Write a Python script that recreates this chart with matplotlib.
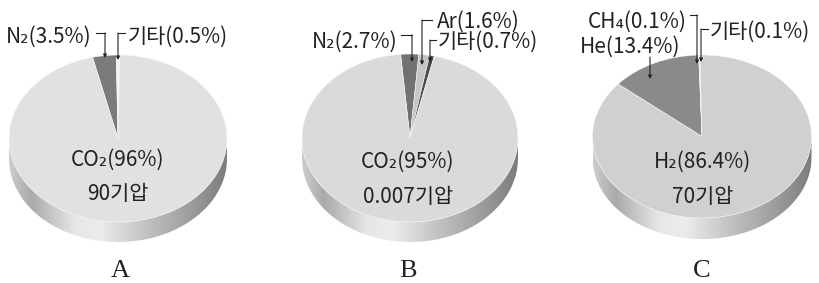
import matplotlib
matplotlib.use('Agg')
import matplotlib.pyplot as plt
import numpy as np
from matplotlib.colors import LinearSegmentedColormap
from matplotlib.patches import Polygon

plt.rcParams['font.family'] = ['Noto Sans CJK KR', 'DejaVu Sans']

# data (percent of each atmosphere, pressure in atm)
namesA = ['N₂', '기타', 'CO₂']
valsA = [3.5, 0.5, 96]
pressA = '90'

namesB = ['N₂', 'Ar', '기타', 'CO₂']
valsB = [2.7, 1.6, 0.7, 95]
pressB = '0.007'

namesC = ['He', 'CH₄', '기타', 'H₂']
valsC = [13.4, 0.1, 0.1, 86.4]
pressC = '70'

planets = ['A', 'B', 'C']

W, H = 819, 283
fig = plt.figure(figsize=(W/100, H/100), dpi=100)

# side band shading (left -> right)
sideCmap = LinearSegmentedColormap.from_list('side', [
	(0.0, '#cdcdcd'), (0.10, '#aaaaaa'), (0.30, '#e6e6e6'), (0.42, '#ececec'),
	(0.62, '#c4c4c4'), (0.85, '#9a9a9a'), (1.0, '#7c7c7c')])


def label(v):
	return '{:g}'.format(v)


def drawPie(cx, cy, rx, ry, t, vals, cols, start):
	pad = 0.05
	left = cx - (1+pad)*rx
	right = cx + (1+pad)*rx
	top = cy - (1+pad)*ry
	bot = cy + ry + t + pad*ry
	ax = fig.add_axes([left/W, 1-bot/H, (right-left)/W, (bot-top)/H])
	td = t/ry

	# cylinder side
	th = np.linspace(np.pi, 2*np.pi, 200)
	upper = np.column_stack([np.cos(th), np.sin(th)])
	lower = np.column_stack([np.cos(th[::-1]), np.sin(th[::-1]) - td])
	side = Polygon(np.vstack([upper, lower]), closed=True, facecolor='none', edgecolor='none')
	ax.add_patch(side)
	grad = np.linspace(0, 1, 256).reshape(1, -1)
	im = ax.imshow(grad, extent=[-1, 1, -1-td, 0], cmap=sideCmap, aspect='auto', zorder=0)
	im.set_clip_path(side)

	wedges, _ = ax.pie(vals, colors=cols, startangle=start, counterclock=False, radius=1,
		center=(0, 0), wedgeprops=dict(edgecolor='#f6f6f6', linewidth=0.4))
	for w in wedges:
		w.set_zorder(2)

	ax.set_aspect('auto')
	ax.set_xlim(-1-pad, 1+pad)
	ax.set_ylim(-1-td-pad, 1+pad)
	ax.axis('off')
	return ax


drawPie(118, 138.5, 109, 83.5, 20, valsA, ['#7b7b7b', '#f4f4f4', '#e1e1e1'], 103.5)
drawPie(410, 138, 108, 84, 20, valsB, ['#727272', '#c6c6c6', '#4a4a4a', '#dadada'], 95)
drawPie(702, 136.5, 109.5, 81.5, 21, valsC, ['#8a8a8a', '#f2f2f2', '#e2e2e2', '#d0d0d0'], 140)

# overlay for labels and leaders, in pixel coords
ax0 = fig.add_axes([0, 0, 1, 1], zorder=5)
ax0.set_xlim(0, W)
ax0.set_ylim(H, 0)
ax0.axis('off')

fs = 15
tc = '#222222'


def leader(pts):
	pts = np.array(pts, dtype=float)
	ax0.plot(pts[:-1, 0], pts[:-1, 1], color=tc, lw=0.8)
	ax0.annotate('', xy=pts[-1], xytext=pts[-2],
		arrowprops=dict(arrowstyle='-|>', color=tc, lw=0.8, mutation_scale=5, shrinkA=0, shrinkB=0))


# A
ax0.text(92, 37, f'{namesA[0]}({label(valsA[0])}%)', ha='right', va='center', fontsize=fs, color=tc)
leader([(96, 33), (105, 33), (105, 58)])
ax0.text(128, 37, f'{namesA[1]}({label(valsA[1])}%)', ha='left', va='center', fontsize=fs, color=tc)
leader([(125, 33), (118, 33), (118, 60)])
ax0.text(118, 160, f'{namesA[2]}({label(valsA[2])}%)', ha='center', va='center', fontsize=fs, color=tc)
ax0.text(118, 194, f'{pressA}기압', ha='center', va='center', fontsize=fs, color=tc)

# B
ax0.text(398, 42, f'{namesB[0]}({label(valsB[0])}%)', ha='right', va='center', fontsize=fs, color=tc)
leader([(401, 35), (412, 35), (412, 62)])
ax0.text(437, 22, f'{namesB[1]}({label(valsB[1])}%)', ha='left', va='center', fontsize=fs, color=tc)
leader([(432, 20), (422, 20), (422, 65)])
ax0.text(438, 42, f'{namesB[2]}({label(valsB[2])}%)', ha='left', va='center', fontsize=fs, color=tc)
leader([(436, 40), (430, 40), (430, 62)])
ax0.text(408, 162, f'{namesB[3]}({label(valsB[3])}%)', ha='center', va='center', fontsize=fs, color=tc)
ax0.text(408, 197, f'{pressB}기압', ha='center', va='center', fontsize=fs, color=tc)

# C
ax0.text(687, 22, f'{namesC[1]}({label(valsC[1])}%)', ha='right', va='center', fontsize=fs, color=tc)
leader([(690, 15), (697, 15), (697, 64)])
ax0.text(710, 32, f'{namesC[2]}({label(valsC[2])}%)', ha='left', va='center', fontsize=fs, color=tc)
leader([(708, 29), (701, 29), (701, 62)])
ax0.text(630, 47, f'{namesC[0]}({label(valsC[0])}%)', ha='center', va='center', fontsize=fs, color=tc)
leader([(650, 57), (650, 79)])
ax0.text(703, 162, f'{namesC[3]}({label(valsC[3])}%)', ha='center', va='center', fontsize=fs, color=tc)
ax0.text(703, 197, f'{pressC}기압', ha='center', va='center', fontsize=fs, color=tc)

for x, p in zip([120, 408, 702], planets):
	ax0.text(x, 271, p, ha='center', va='center', fontsize=19, color=tc, family='Liberation Serif')

fig.savefig('out.png', dpi=100)
